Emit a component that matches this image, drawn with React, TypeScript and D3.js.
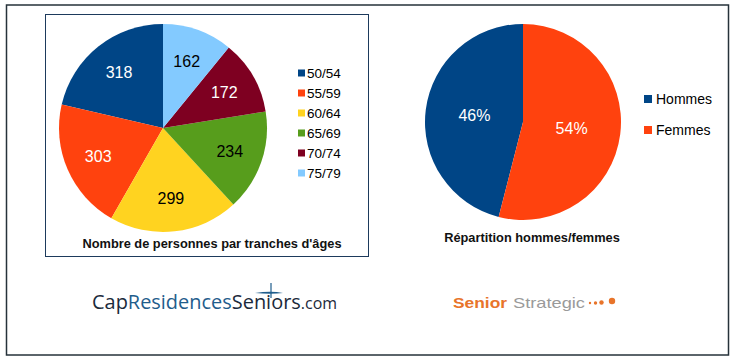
import * as d3 from "d3";

const AGE_GROUPS = ["50/54", "55/59", "60/64", "65/69", "70/74", "75/79"];
const AGE_COUNTS = [318, 303, 299, 234, 172, 162];
const AGE_COLORS = ["#004586", "#ff420e", "#ffd320", "#579d1c", "#7e0021", "#83caff"];
const AGE_LABEL_COLORS = ["#ffffff", "#ffffff", "#000000", "#000000", "#ffffff", "#000000"];

const SEXES = ["Hommes", "Femmes"];
const SEX_SHARES = [46, 54];
const SEX_COLORS = ["#004586", "#ff420e"];

const FONT = "'Liberation Sans', Arial, sans-serif";

type Slice = d3.PieArcDatum<number>;

function Pie({
  cx, cy, r, values, colors, labels, labelColors, labelRatio,
}: {
  cx: number; cy: number; r: number; values: number[]; colors: string[];
  labels: string[]; labelColors: string[]; labelRatio: number;
}) {
  // LibreOffice draws the first series from 12 o'clock going counter-clockwise
  const pie = d3.pie<number>().sort(null).startAngle(0).endAngle(-2 * Math.PI);
  const arcs = pie(values);
  const arc = d3.arc<Slice>().innerRadius(0).outerRadius(r);
  const labelArc = d3.arc<Slice>().innerRadius(r * labelRatio).outerRadius(r * labelRatio);
  return (
    <g transform={`translate(${cx},${cy})`}>
      {arcs.map((a, i) => (
        <path key={i} d={arc(a) ?? ""} fill={colors[i]} />
      ))}
      {arcs.map((a, i) => {
        const [x, y] = labelArc.centroid(a);
        return (
          <text key={i} x={x} y={y} textAnchor="middle" dominantBaseline="central"
            fill={labelColors[i]} fontSize={16} fontFamily={FONT}>
            {labels[i]}
          </text>
        );
      })}
    </g>
  );
}

export default function App() {
  const ageLegendY = d3.scalePoint<string>().domain(AGE_GROUPS).range([73, 173]);
  const sexLegendY = d3.scalePoint<string>().domain(SEXES).range([99, 130]);

  return (
    <svg width={736} height={362} style={{ position: "absolute", left: 0, top: 0, background: "#fff" }}>
      <rect x={6.5} y={5} width={722} height={350} fill="#fff" stroke="#26323a" strokeWidth={1.5} />
      <rect x={45.5} y={14.5} width={323} height={242} fill="#fff" stroke="#1d3a5c" strokeWidth={1} />

      <Pie cx={163} cy={128} r={104} values={AGE_COUNTS} colors={AGE_COLORS}
        labels={AGE_COUNTS.map(String)} labelColors={AGE_LABEL_COLORS} labelRatio={0.68} />

      {AGE_GROUPS.map((g, i) => (
        <g key={g} transform={`translate(298,${ageLegendY(g)})`}>
          <rect x={0} y={-3.5} width={7} height={7} fill={AGE_COLORS[i]} />
          <text x={9} y={0} dominantBaseline="central" fontSize={13.5} fontFamily={FONT} fill="#000">
            {g}
          </text>
        </g>
      ))}

      <text x={212} y={248} textAnchor="middle" fontSize={12.8} fontWeight="bold" fontFamily={FONT} fill="#111">
        Nombre de personnes par tranches d'âges
      </text>

      <Pie cx={523} cy={122} r={98} values={SEX_SHARES} colors={SEX_COLORS}
        labels={SEX_SHARES.map((v) => `${v}%`)} labelColors={["#ffffff", "#ffffff"]} labelRatio={0.5} />

      {SEXES.map((s, i) => (
        <g key={s} transform={`translate(644,${sexLegendY(s)})`}>
          <rect x={0} y={-4} width={8} height={8} fill={SEX_COLORS[i]} />
          <text x={12} y={0} dominantBaseline="central" fontSize={14} fontFamily={FONT} fill="#000">
            {s}
          </text>
        </g>
      ))}

      <text x={532} y={242} textAnchor="middle" fontSize={12.8} fontWeight="bold" fontFamily={FONT} fill="#111">
        Répartition hommes/femmes
      </text>

      {/* CapResidencesSeniors logo */}
      <text x={92} y={309} fontSize={20} fontFamily="'Open Sans', sans-serif" textLength={245}
        lengthAdjust="spacingAndGlyphs" fill="#1b2a3b">
        <tspan>Cap</tspan>
        <tspan fill="#1f5d8c">Residences</tspan>
        <tspan>Seniors</tspan>
        <tspan fontSize={16}>.com</tspan>
      </text>
      <line x1={271} y1={283} x2={271} y2={298} stroke="#1f5d8c" strokeWidth={1.2} />
      <path d="M255,293 Q271,290.5 283,293 Q271,294.5 255,293 Z" fill="#1f5d8c" />

      {/* Senior Strategic logo */}
      <text x={453} y={308} fontSize={15} fontWeight="bold" fontFamily={FONT} fill="#e8742a"
        textLength={54} lengthAdjust="spacingAndGlyphs">
        Senior
      </text>
      <text x={513} y={308} fontSize={15} fontFamily={FONT} fill="#9a9a9a"
        textLength={72} lengthAdjust="spacingAndGlyphs">
        Strategic
      </text>
      <circle cx={590} cy={303} r={1.2} fill="#e8742a" />
      <circle cx={595.5} cy={303} r={1.7} fill="#e8742a" />
      <circle cx={601.5} cy={302.5} r={2.2} fill="#e8742a" />
      <circle cx={612} cy={301} r={3.2} fill="#e8742a" />
    </svg>
  );
}
